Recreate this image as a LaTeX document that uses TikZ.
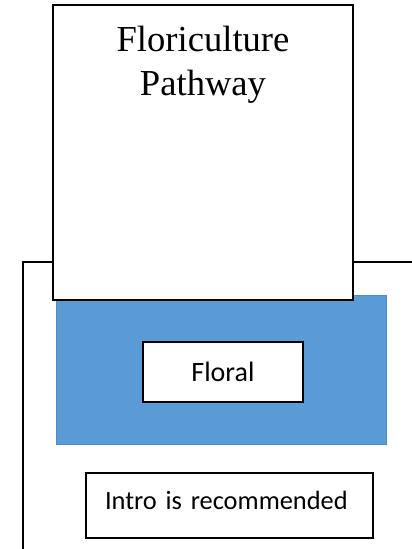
\documentclass[tikz,border=0pt]{standalone}
\usepackage{fontspec}
\setmainfont{Liberation Serif}
\newfontfamily\calibrifont{Carlito}
\usepackage{xcolor}
\usetikzlibrary{positioning}

\definecolor{panelblue}{HTML}{5B9BD5}
\definecolor{paneledge}{HTML}{4F8CC6}

\begin{document}
\begin{tikzpicture}[
    x=1pt, y=-1pt,
    frame/.style={draw=black, line width=1.6pt},
    titlebox/.style={rectangle, draw, fill=white, line width=1.3pt, minimum width=300pt, minimum height=295pt},
    titletext/.style={align=center, inner sep=0pt, font=\fontsize{36.6}{44}\selectfont},
    panel/.style={rectangle, draw=paneledge, fill=panelblue, line width=0.6pt, minimum width=330pt, minimum height=149pt},
    tagbox/.style={rectangle, draw, fill=white, line width=1.5pt, minimum width=160pt, minimum height=60pt, font=\calibrifont\fontsize{28}{32}\selectfont},
    notebox/.style={rectangle, draw, fill=white, line width=1.5pt, align=left, text width=249pt, inner xsep=19pt, inner ysep=0pt, text height=36pt, text depth=29pt, font=\calibrifont\fontsize{26.4}{30}\selectfont}
]
\useasboundingbox (0,0) rectangle (412,549);

% Outer frame (only left and top edges show)
\coordinate (framecorner) at (23,262);
\draw[frame] (23,549) -- (framecorner) -- (412,262);

% Boxes
\node[panel] (panel) at (221,369.5) {};
\node[titlebox] (title) at (203,152.5) {};
\node[titletext, below=22pt of title.north] (titletext) {Floriculture\\Pathway};
\node[tagbox] (floral) at (223,372) {Floral};
\node[notebox] (intro) at (229.5,505.5) {Intro is recommended};

\end{tikzpicture}
\end{document}
